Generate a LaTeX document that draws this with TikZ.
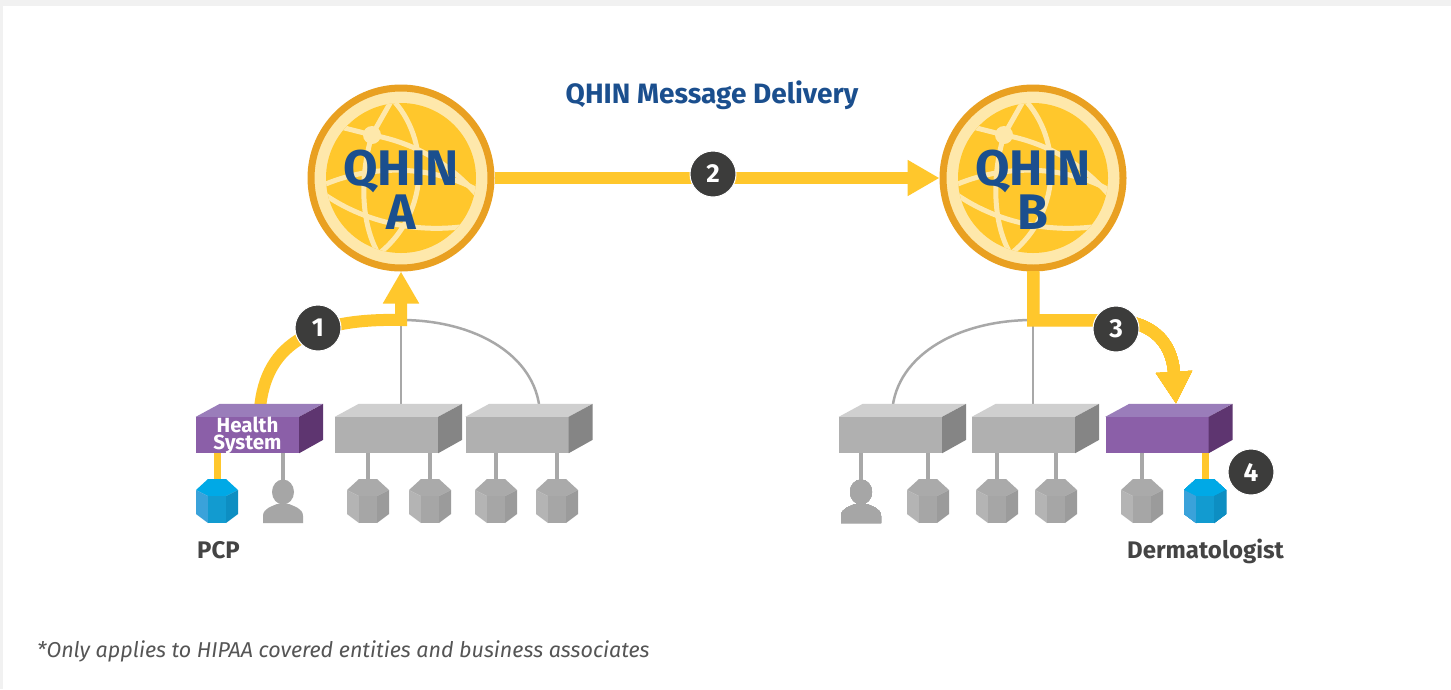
\documentclass[tikz,border=0pt]{standalone}
\usepackage{fontspec}
\setmainfont{Fira Sans}
\usetikzlibrary{arrows.meta}
\definecolor{qbg}{HTML}{F1F1F1}
\definecolor{qorange}{HTML}{E9A021}
\definecolor{qlight}{HTML}{FEE8AB}
\definecolor{qyellow}{HTML}{FFC72C}
\definecolor{qarrow}{HTML}{FFC72C}
\definecolor{qblue}{HTML}{1B4F8E}
\definecolor{qdark}{HTML}{3C3C3B}
\definecolor{qtext}{HTML}{444444}
\definecolor{qnote}{HTML}{555555}
\definecolor{qline}{HTML}{A8A8A8}
\definecolor{gfront}{HTML}{B0B0B0}
\definecolor{gtop}{HTML}{CFCFCF}
\definecolor{gside}{HTML}{858585}
\definecolor{pfront}{HTML}{8B5FA8}
\definecolor{ptop}{HTML}{9A7DBA}
\definecolor{pside}{HTML}{5E3570}
\definecolor{graytop}{HTML}{AAAAAA}
\definecolor{grayleft}{HTML}{B4B4B4}
\definecolor{graymid}{HTML}{A6A6A6}
\definecolor{grayright}{HTML}{9B9B9B}
\definecolor{bluetop}{HTML}{00A9E6}
\definecolor{blueleft}{HTML}{3AA2DA}
\definecolor{bluemid}{HTML}{129BD0}
\definecolor{blueright}{HTML}{0D8EC2}
\tikzset{
  flow/.style={line width=12pt,draw=qarrow},
  flowtip/.style={-{Triangle[width=34pt,length=32pt]}},
  tree/.style={line width=2.5pt,draw=qline},
  link/.style={line width=3.5pt,draw=qline},
  ylink/.style={line width=7pt,draw=qarrow},
  face/.style={minimum width=103pt,minimum height=36pt,inner sep=0pt},
  qhin/.style={circle,minimum size=180pt,inner sep=0pt,fill=qlight,draw=qorange,line width=7pt,
    path picture={
      \begin{scope}[shift={(path picture bounding box.center)}]
        \fill[qyellow] (0,0) circle (75pt);
        \clip (0,0) circle (75pt);
        \begin{scope}[line width=5pt,draw=qlight]
          \draw (-10,-80) .. controls (30,-40) and (30,40) .. (-28,80);
          \draw (-29,-43) .. controls (-42,0) and (-40,50) .. (-20,80);
          \draw (-29,-43) -- (-8,-80) (-29,-43) -- (-80,-56);
          \draw (-80,8) .. controls (-30,-14) and (30,-14) .. (80,14);
          \draw (-29,-43) .. controls (10,-36) and (50,-16) .. (80,22);
          \draw (-80,14) .. controls (-30,50) and (30,56) .. (78,46);
        \end{scope}
        \fill[qlight] (-29,-43) circle (9pt);
      \end{scope}}},
  qlabel/.style={text=qblue,font=\bfseries\fontsize{50}{50}\selectfont,anchor=base,inner sep=0pt,
    text height=36pt,text depth=0pt},
  hslabel/.style={text=white,font=\bfseries\fontsize{20.5}{20.5}\selectfont,anchor=base,inner sep=0pt,
    text height=15pt,text depth=0pt},
  badge/.style={circle,fill=qdark,draw=white,line width=1pt,text=white,minimum size=46pt,inner sep=0pt,
    font=\bfseries\fontsize{26}{26}\selectfont},
  place/.style={text=qtext,font=\bfseries\fontsize{24}{24}\selectfont,anchor=base west,inner sep=0pt},
}
\newcommand\cubefaces[3]{%
  \fill[#2] (#1.north west) -- ++(24,-13) -- ++(103,0) -- (#1.north east) -- cycle;
  \fill[#3] (#1.north east) -- ++(24,-13) -- ++(0,36) -- (#1.south east) -- cycle;}
\newcommand\hexdev[2]{%
  \begin{scope}[shift={(#1)}]
    \fill[#2top] (-9,0) -- (9,0) -- (21,11) -- (9,17) -- (-9,17) -- (-21,11) -- cycle;
    \fill[#2left] (-21,11) -- (-9,17) -- (-9,44) -- (-21,35) -- cycle;
    \fill[#2mid] (-9,17) -- (9,17) -- (9,44) -- (-9,44) -- cycle;
    \fill[#2right] (9,17) -- (21,11) -- (21,35) -- (9,44) -- cycle;
  \end{scope}}
\newcommand\persondev[1]{%
  \begin{scope}[shift={(#1)}]
    \fill[graymid] (0,13) ellipse (11pt and 12.5pt);
    \fill[graymid] (-20,44) -- (-20,37) .. controls (-20,29) and (-10,27) .. (-6,25) -- (6,25)
      .. controls (10,27) and (20,29) .. (20,37) -- (20,44) -- cycle;
  \end{scope}}
\begin{document}
\begin{tikzpicture}[x=1pt,y=-1pt]
\useasboundingbox (0,0) rectangle (1451,689);
\fill[qbg] (0,0) rectangle (1451,689);
\fill[white] (3,6) rectangle (1451,689);
\node[text=qblue,font=\bfseries\fontsize{28}{28}\selectfont,anchor=base] (title) at (712,103) {QHIN Message Delivery};
\node[qhin] (qA) at (401,178) {};
\node[qhin] (qB) at (1033,178) {};
\node[qlabel] (qAtop) at ([yshift=-7pt]qA.center) {QHIN};
\node[qlabel] (qAbot) at ([yshift=-51pt]qA.center) {A};
\node[qlabel] (qBtop) at ([yshift=-7pt]qB.center) {QHIN};
\node[qlabel] (qBbot) at ([yshift=-51pt]qB.center) {B};
\coordinate (jA) at (401,320);
\coordinate (jB) at (1033,320);
\node[face,fill=pfront] (hs) at (247.5,435) {};
\node[face,fill=gfront] (gA2) at (386.5,435) {};
\node[face,fill=gfront] (gA3) at (517,435) {};
\node[face,fill=gfront] (gB1) at (890.5,435) {};
\node[face,fill=gfront] (gB2) at (1023.5,435) {};
\node[face,fill=pfront] (dbox) at (1157,435) {};
\draw[tree] (jA) -- (jA |- gA2.north);
\draw[tree] (jA) .. controls (478,320) and (540,358) .. ([xshift=23pt]gA3.north);
\draw[tree] (jB) -- (jB |- gB2.north);
\draw[tree] (jB) .. controls (955,320) and (892,358) .. ([xshift=1.5pt]gB1.north);
\draw[flow,flowtip] ([xshift=12pt]hs.north) .. controls (262,345) and (310,318) .. (jA) -- (qA.south);
\cubefaces{hs}{ptop}{pside}
\cubefaces{gA2}{gtop}{gside}
\cubefaces{gA3}{gtop}{gside}
\cubefaces{gB1}{gtop}{gside}
\cubefaces{gB2}{gtop}{gside}
\cubefaces{dbox}{ptop}{pside}
\node[hslabel] (hstop) at ([yshift=3pt]hs.center) {Health};
\node[hslabel] (hsbot) at ([yshift=-14pt]hs.center) {System};
\foreach \n/\x in {pcp/217,per1/283,d2a/368,d2b/430,d3a/496,d3b/557,per2/861,e1a/928,e2a/997,e2b/1056,e3a/1142,derm/1205}
  \coordinate (\n) at (\x,479);
\foreach \b/\d in {hs/per1,gA2/d2a,gA2/d2b,gA3/d3a,gA3/d3b,gB1/per2,gB1/e1a,gB2/e2a,gB2/e2b,dbox/e3a}
  \draw[link] (\b.south -| \d) -- ([yshift=-6pt]\d);
\draw[ylink] (hs.south -| pcp) -- ([yshift=-6pt]pcp);
\draw[ylink] (dbox.south -| derm) -- ([yshift=-6pt]derm);
\hexdev{pcp}{blue}
\persondev{per1}
\foreach \d in {d2a,d2b,d3a,d3b,e1a,e2a,e2b,e3a}
  \hexdev{\d}{gray}
\persondev{per2}
\hexdev{derm}{blue}
\draw[flow,flowtip] (qB.south) -- (jB) -- ++(76,0) .. controls (1150,320) and (1172,340) .. ([xshift=19pt,yshift=13pt]dbox.north);
\draw[flow,flowtip] (qA.east) -- (qB.west);
\node[badge] (b1) at (318,328) {1};
\node[badge] (b2) at (713,174) {2};
\node[badge] (b3) at (1116,329) {3};
\node[badge] (b4) at (1251,472) {4};
\node[place] (pcplabel) at (197,558) {PCP};
\node[place] (dermlabel) at (1127,558) {Dermatologist};
\node[text=qnote,font=\itshape\fontsize{21.5}{21.5}\selectfont,anchor=base west,inner sep=0pt] (note) at (37,657)
  {*Only applies to HIPAA covered entities and business associates};
\end{tikzpicture}
\end{document}
